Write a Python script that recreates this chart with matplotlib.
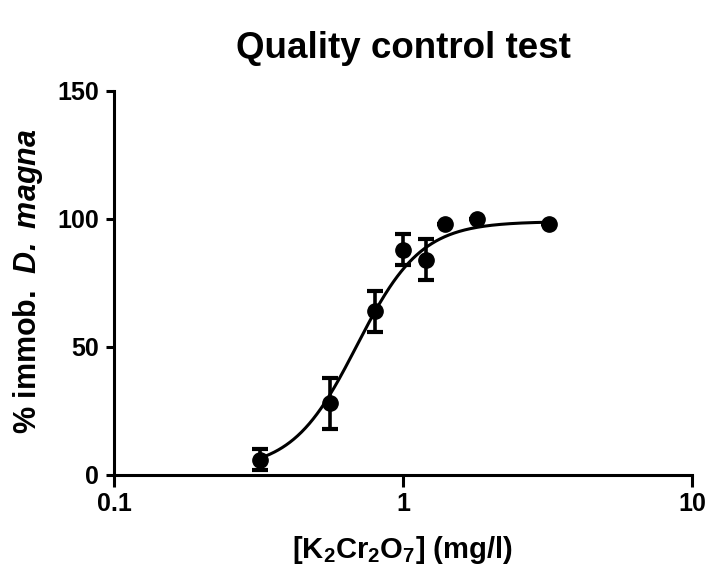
import numpy as np
import matplotlib
matplotlib.use("Agg")
import matplotlib.pyplot as plt

# Data
conc = [0.32, 0.56, 0.80, 1.0, 1.2, 1.4, 1.8, 3.2]
immob = [6, 28, 64, 88, 84, 98, 100, 98]
err = [4, 10, 8, 6, 8, 0, 0, 0]

# Fitted Hill-curve parameters (estimated from the drawn curve)
bottom, top, log_ec50, hill = 2.0, 99.0, -0.16, 3.9

xticks = [0.1, 1, 10]
xticklabels = ["0.1", "1", "10"]
yticks = [0, 50, 100, 150]

plt.rcParams['font.family'] = ['Liberation Sans', 'DejaVu Sans']
plt.rcParams['font.weight'] = 'bold'
plt.rcParams['mathtext.fontset'] = 'custom'
plt.rcParams['mathtext.rm'] = 'Liberation Sans:bold'
plt.rcParams['mathtext.bf'] = 'Liberation Sans:bold'
plt.rcParams['mathtext.it'] = 'Liberation Sans:bold:italic'
plt.rcParams['mathtext.bfit'] = 'Liberation Sans:bold:italic'

W, H = 708, 567
fig = plt.figure(figsize=(W / 100, H / 100), dpi=100)
ax = fig.add_axes([114 / W, (H - 475) / H, (692 - 114) / W, (475 - 91) / H])

xs = np.logspace(np.log10(conc[0]), np.log10(conc[-1]), 300)
ys = bottom + (top - bottom) / (1 + 10 ** ((log_ec50 - np.log10(xs)) * hill))
ax.plot(xs, ys, color='black', lw=2.2, zorder=2, clip_on=False)

ax.errorbar(conc, immob, yerr=err, fmt='o', color='black', ms=11,
            elinewidth=2.6, capsize=5.5, capthick=3, zorder=3, clip_on=False)

ax.set_xscale('log')
ax.set_xlim(0.1, 10)
ax.set_ylim(0, 150)
ax.set_xticks(xticks)
ax.set_xticklabels(xticklabels)
ax.xaxis.set_minor_locator(matplotlib.ticker.NullLocator())
ax.set_yticks(yticks)

for s in ['top', 'right']:
    ax.spines[s].set_visible(False)
for s in ['left', 'bottom']:
    ax.spines[s].set_linewidth(2.2)
ax.tick_params(axis='y', which='major', length=6, width=2.2, labelsize=18, pad=5)
ax.tick_params(axis='x', which='major', length=8.5, width=2.2, labelsize=18, pad=4)
for lab in ax.get_xticklabels() + ax.get_yticklabels():
    lab.set_fontweight('bold')

fig.text(403 / W, 1 - 58 / H, 'Quality control test', ha='center', va='baseline',
         fontsize=26.5, fontweight='bold')
fig.text(28 / W, 1 - 281 / H, r'% immob.  $\mathbfit{D.\ magna}$', ha='center', va='center',
         rotation=90, fontsize=22, fontweight='bold')
fig.text(402 / W, 1 - 558 / H, r'[K$_{\mathbf{2}}$Cr$_{\mathbf{2}}$O$_{\mathbf{7}}$] (mg/l)',
         ha='center', va='baseline', fontsize=21, fontweight='bold')

fig.savefig('out.png', dpi=100)
